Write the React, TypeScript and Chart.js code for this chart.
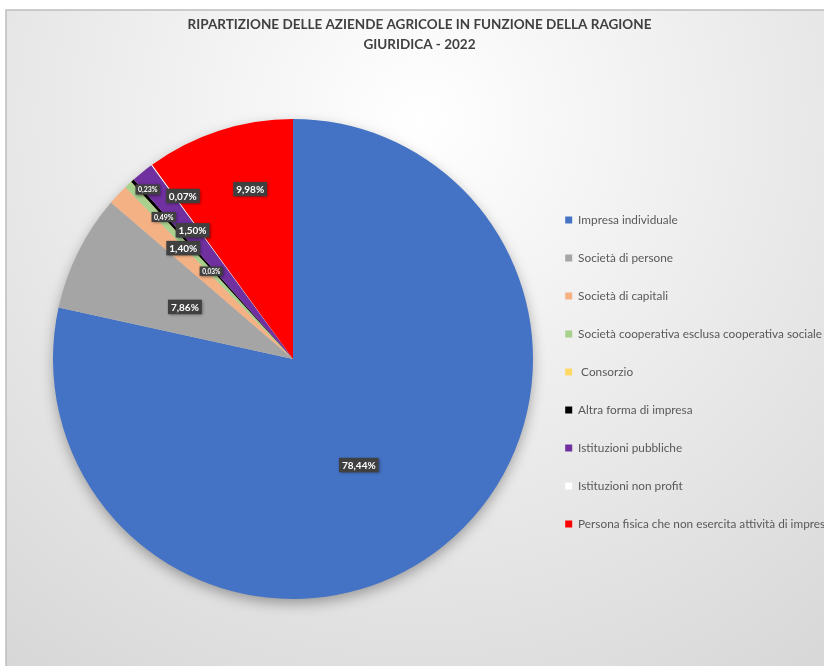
import React, { useEffect, useRef } from "react";
import { Chart, registerables } from "chart.js";

Chart.register(...registerables);

const categories = [
  "Impresa individuale",
  "Società di persone",
  "Società di capitali",
  "Società cooperativa esclusa cooperativa sociale",
  " Consorzio",
  "Altra forma di impresa",
  "Istituzioni pubbliche",
  "Istituzioni non profit",
  "Persona fisica che non esercita attività di impresa",
];

const shares = [78.44, 7.86, 1.4, 0.49, 0.03, 0.23, 1.5, 0.07, 9.98];

const sliceColors = [
  "#4472C4",
  "#A5A5A5",
  "#F4B183",
  "#A9D18E",
  "#FFD966",
  "#000000",
  "#7030A0",
  "#FFFFFF",
  "#FF0000",
];

const titleLines = [
  "RIPARTIZIONE DELLE AZIENDE AGRICOLE IN FUNZIONE DELLA RAGIONE",
  "GIURIDICA - 2022",
];

const FONT = "Lato, 'Noto Sans', sans-serif";
const LEGEND_FONT_SIZE = 11.8;
const LEGEND_BOX = 7;

// label placement: angle offset (deg) from slice mid-angle, radius fraction, font size
const labelPlacement = {
  angleOffset: [7, -0.8, 2.1, 1.1, -0.5, 1.4, 0.9, 2.0, 3.8],
  radiusFrac: [0.52, 0.5, 0.65, 0.8, 0.5, 0.93, 0.68, 0.82, 0.73],
  fontSize: [10, 10, 10, 7, 6.5, 7, 10, 10, 10],
};

const backgroundPlugin = {
  id: "bgFrame",
  beforeDraw(chart: any) {
    const { ctx, width, height } = chart;
    ctx.save();
    ctx.fillStyle = "#ffffff";
    ctx.fillRect(0, 0, width, height);
    const g = ctx.createRadialGradient(420, 120, 0, 420, 120, 700);
    g.addColorStop(0, "#ffffff");
    g.addColorStop(1, "#d6d6d6");
    ctx.fillStyle = g;
    ctx.fillRect(6, 10, width - 6, height - 10);
    ctx.strokeStyle = "#bdbdbd";
    ctx.lineWidth = 1.5;
    ctx.strokeRect(6, 10, width, height);
    ctx.restore();
  },
};

const shadowPlugin = {
  id: "pieShadow",
  beforeDatasetsDraw(chart: any) {
    const meta = chart.getDatasetMeta(0);
    const arc = meta.data[0];
    if (!arc) return;
    const { x, y, outerRadius } = arc.getProps(["x", "y", "outerRadius"], true);
    const ctx = chart.ctx;
    ctx.save();
    ctx.shadowColor = "rgba(0,0,0,0.35)";
    ctx.shadowBlur = 14;
    ctx.shadowOffsetY = 5;
    ctx.fillStyle = "#cccccc";
    ctx.beginPath();
    ctx.arc(x, y, outerRadius - 1, 0, Math.PI * 2);
    ctx.fill();
    ctx.restore();
  },
};

const labelPlugin = {
  id: "sliceLabels",
  afterDatasetsDraw(chart: any) {
    const meta = chart.getDatasetMeta(0);
    const ctx = chart.ctx;
    const values = chart.data.datasets[0].data as number[];
    meta.data.forEach((arc: any, i: number) => {
      const { x, y, startAngle, endAngle, outerRadius } = arc.getProps(
        ["x", "y", "startAngle", "endAngle", "outerRadius"],
        true
      );
      const mid = (startAngle + endAngle) / 2 + (labelPlacement.angleOffset[i] * Math.PI) / 180;
      const r = outerRadius * labelPlacement.radiusFrac[i];
      const cx = x + Math.cos(mid) * r;
      const cy = y + Math.sin(mid) * r;
      const text = values[i].toFixed(2).replace(".", ",") + "%";
      const fs = labelPlacement.fontSize[i];
      ctx.save();
      ctx.font = `bold ${fs}px ${FONT}`;
      const tw = ctx.measureText(text).width;
      const padX = fs > 8 ? 3 : 2.5;
      const bw = tw + padX * 2;
      const bh = fs * 1.45;
      ctx.shadowColor = "rgba(0,0,0,0.45)";
      ctx.shadowBlur = 3;
      ctx.shadowOffsetX = 1;
      ctx.shadowOffsetY = 1;
      ctx.fillStyle = "#404040";
      ctx.fillRect(cx - bw / 2, cy - bh / 2, bw, bh);
      ctx.shadowColor = "transparent";
      ctx.fillStyle = "#ffffff";
      ctx.textAlign = "center";
      ctx.textBaseline = "middle";
      ctx.fillText(text, cx, cy + 0.5);
      ctx.restore();
    });
  },
};

// Legend text is drawn here (unclipped) at the positions the Chart.js legend laid out.
const legendTextPlugin = {
  id: "legendText",
  afterDraw(chart: any) {
    const legend = chart.legend;
    if (!legend || !legend.legendHitBoxes) return;
    const ctx = chart.ctx;
    ctx.save();
    ctx.font = `${LEGEND_FONT_SIZE}px ${FONT}`;
    ctx.fillStyle = "#595959";
    ctx.textAlign = "left";
    ctx.textBaseline = "middle";
    legend.legendItems.forEach((item: any, i: number) => {
      const hb = legend.legendHitBoxes[i];
      if (!hb) return;
      ctx.fillText(item.text, hb.left + LEGEND_BOX + LEGEND_FONT_SIZE / 2, hb.top + hb.height / 2);
    });
    ctx.restore();
  },
};

export default function App() {
  const canvasRef = useRef<HTMLCanvasElement | null>(null);

  useEffect(() => {
    if (!canvasRef.current) return;
    const chart = new Chart(canvasRef.current, {
      type: "pie",
      data: {
        labels: categories,
        datasets: [
          {
            data: shares,
            backgroundColor: sliceColors,
            borderWidth: 0,
          },
        ],
      },
      options: {
        animation: false,
        responsive: true,
        maintainAspectRatio: false,
        layout: { padding: { left: 47, right: 48, top: 0, bottom: 67 } },
        plugins: {
          tooltip: { enabled: false },
          title: {
            display: true,
            text: titleLines,
            color: "#404040",
            font: { family: FONT, size: 13.5, weight: "bold", lineHeight: 1.45 },
            padding: { top: 15, bottom: 64.85 },
          },
          legend: {
            position: "right",
            fullSize: false,
            maxWidth: 253,
            title: { display: true, text: "", padding: 0, font: { size: 26, lineHeight: 1 } },
            labels: {
              boxWidth: LEGEND_BOX,
              boxHeight: LEGEND_BOX,
              padding: 26.2,
              color: "rgba(0,0,0,0)",
              font: { family: FONT, size: LEGEND_FONT_SIZE },
            },
          },
        },
      },
      plugins: [backgroundPlugin, shadowPlugin, labelPlugin, legendTextPlugin],
    });
    return () => chart.destroy();
  }, []);

  return (
    <div style={{ position: "fixed", left: 0, top: 0, width: 824, height: 666, overflow: "hidden" }}>
      <div style={{ position: "absolute", left: 0, top: 0, width: 840, height: 666 }}>
        <canvas ref={canvasRef} />
      </div>
    </div>
  );
}
